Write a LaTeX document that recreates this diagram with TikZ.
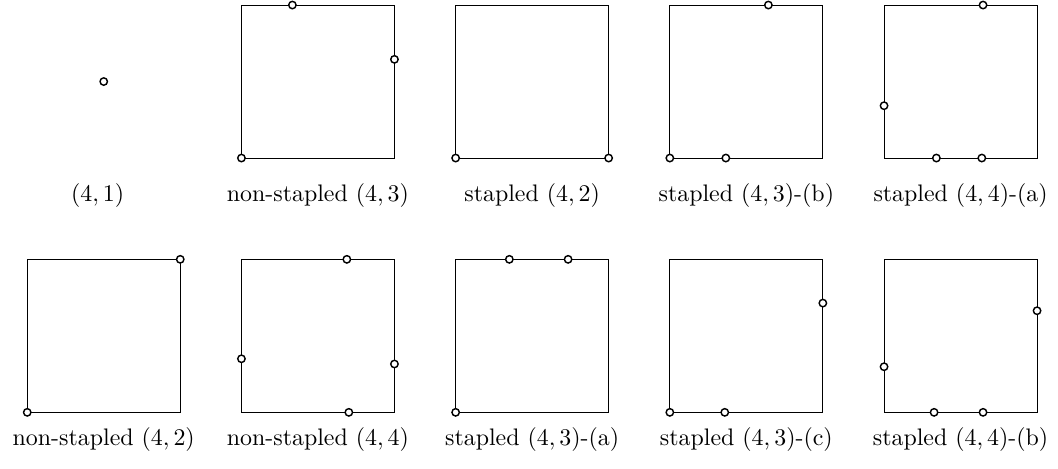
\documentclass[tikz,border=0pt]{standalone}
\usetikzlibrary{calc}
\tikzset{vtx/.style={draw,fill=white,line width=0.6pt}}
% #1,#2 shift, #3 name, #4 label, #5 label height, #6 points
\newcommand{\sqpanel}[6]{
	\begin{scope}[shift={(#1,#2)}]
		\draw (0,0) rectangle (1,1);
		\foreach \p in {#6}{
			\draw[vtx] \p circle (1.55pt);
		}
		\node[anchor=base] (#3) at (0.5,#5) {#4};
	\end{scope}
}

\begin{document}
\begin{tikzpicture}[x=2.25cm,y=2.25cm]
\useasboundingbox (-0.178,-0.364) rectangle (6.737,2.695);
% top row
\draw[vtx] (0.5,2.162) circle (1.55pt);
\node[anchor=base] (t0) at (0.46,1.381) {$(4,1)$};
\sqpanel{1.4}{1.662}{t1}{non-stapled $(4,3)$}{-0.281}{(0,0),(0.333,1),(1,0.645)}
\sqpanel{2.8}{1.662}{t2}{stapled $(4,2)$}{-0.281}{(0,0),(1,0)}
\sqpanel{4.2}{1.662}{t3}{stapled $(4,3)$-(b)}{-0.281}{(0,0),(0.366,0),(0.644,1)}
\sqpanel{5.6}{1.662}{t4}{stapled $(4,4)$-(a)}{-0.281}{(0.342,0),(0.639,0),(0,0.342),(0.647,1)}
% bottom row
\sqpanel{0}{0}{b0}{non-stapled $(4,2)$}{-0.218}{(0,0),(1,1)}
\sqpanel{1.4}{0}{b1}{non-stapled $(4,4)$}{-0.218}{(0.689,1),(0,0.350),(1,0.316),(0.702,0)}
\sqpanel{2.8}{0}{b2}{stapled $(4,3)$-(a)}{-0.218}{(0,0),(0.351,1),(0.735,1)}
\sqpanel{4.2}{0}{b3}{stapled $(4,3)$-(c)}{-0.218}{(0,0),(0.359,0),(1,0.714)}
\sqpanel{5.6}{0}{b4}{stapled $(4,4)$-(b)}{-0.218}{(0,0.298),(0.327,0),(0.647,0),(1,0.664)}
\end{tikzpicture}
\end{document}
